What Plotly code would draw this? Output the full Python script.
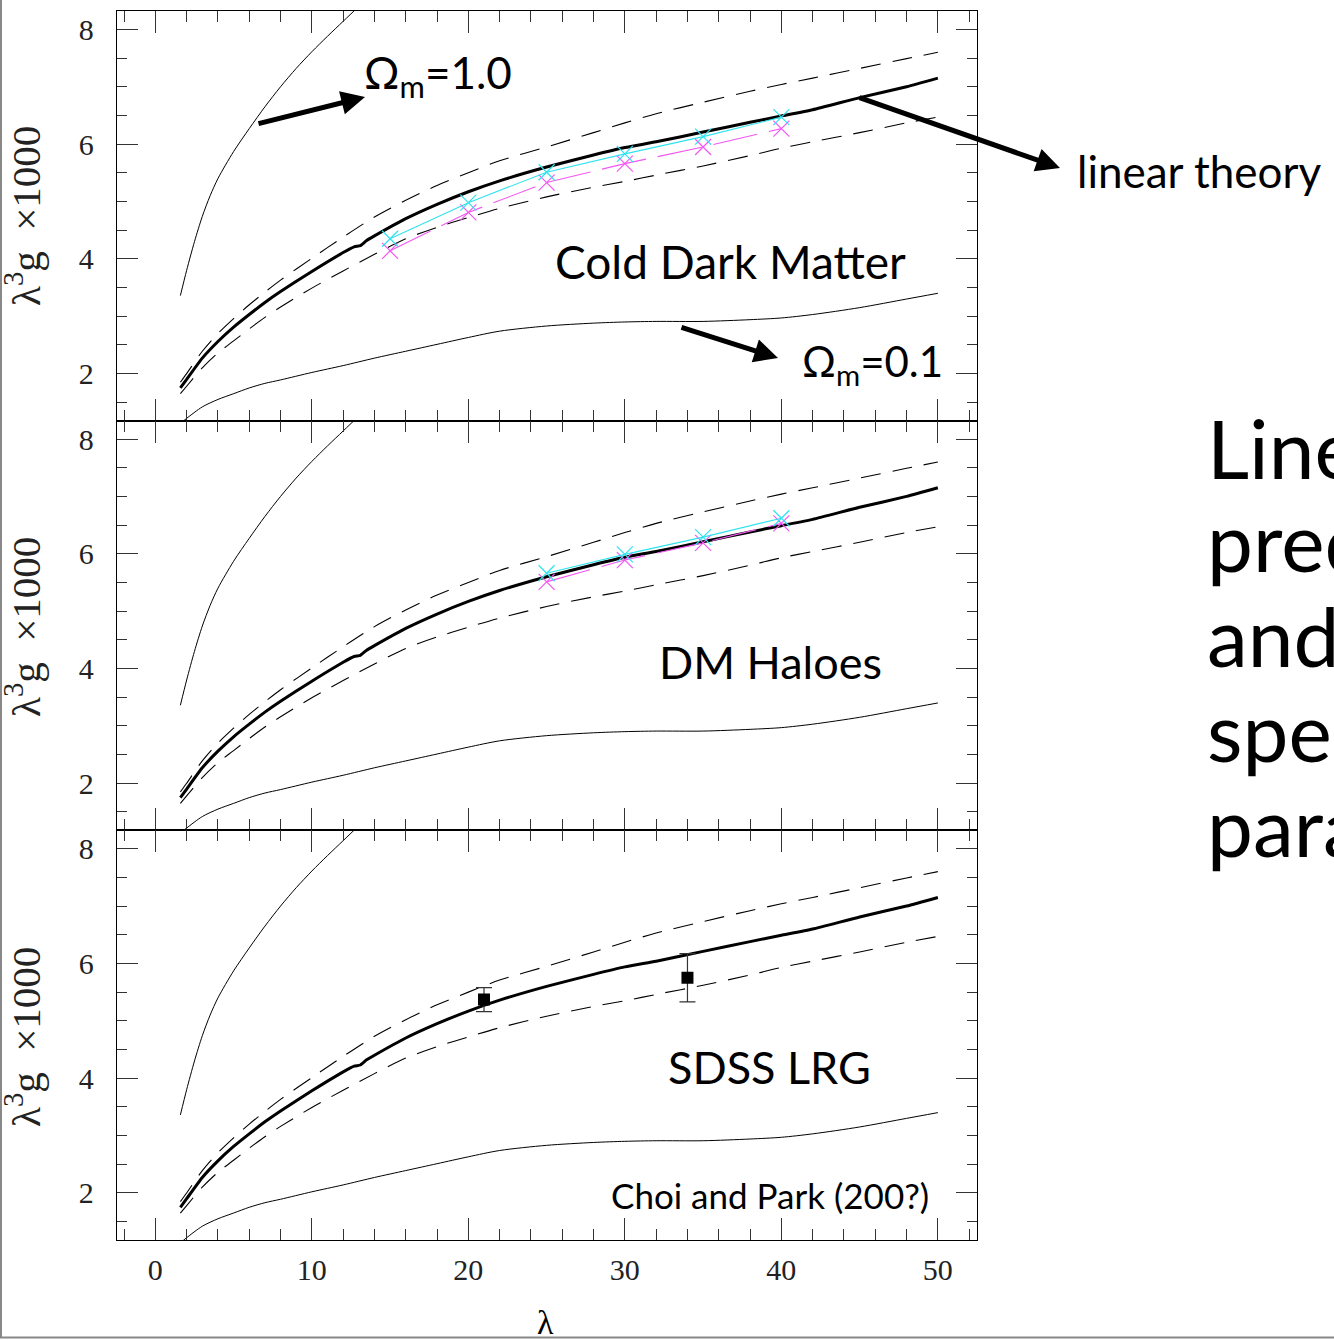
import plotly.graph_objects as go

# ---------------- data ----------------
lam_lin = [1.6, 2, 3, 4, 5, 6, 7, 8, 10, 12, 12.7, 13.1, 13.5, 14, 16, 18, 20, 22,
           25, 28, 30, 32, 35, 38, 40, 42, 45, 48, 50]
linear_theory = [1.75, 1.90, 2.27, 2.56, 2.81, 3.03, 3.24, 3.43, 3.78, 4.11, 4.21, 4.23,
                 4.32, 4.40, 4.70, 4.95, 5.17, 5.36, 5.60, 5.81, 5.94, 6.04, 6.21, 6.38,
                 6.49, 6.60, 6.81, 7.00, 7.15]

lam_band = [1.6, 2, 3, 4, 5, 6, 7, 8, 10, 12, 14, 16, 18, 20, 22, 25, 28, 30, 32, 35,
            38, 40, 42, 45, 48, 50]
band_upper = [1.85, 2.00, 2.39, 2.70, 2.96, 3.20, 3.42, 3.63, 4.01, 4.38, 4.73, 5.02,
              5.28, 5.50, 5.71, 5.95, 6.20, 6.37, 6.53, 6.73, 6.92, 7.04, 7.15, 7.32,
              7.49, 7.60]
band_lower = [1.65, 1.78, 2.10, 2.36, 2.57, 2.78, 2.98, 3.16, 3.49, 3.79, 4.08, 4.35,
              4.55, 4.72, 4.88, 5.08, 5.25, 5.35, 5.46, 5.62, 5.80, 5.93, 6.04, 6.20,
              6.37, 6.47]
omega_01 = [1.13, 1.22, 1.42, 1.55, 1.65, 1.75, 1.83, 1.89, 2.02, 2.14, 2.27, 2.39,
            2.51, 2.63, 2.74, 2.83, 2.88, 2.90, 2.91, 2.91, 2.94, 2.97, 3.03, 3.15,
            3.30, 3.40]

lam_high = [1.6, 2, 2.5, 3, 3.5, 4, 5, 6, 7, 8, 9, 10, 11, 12, 13, 14]
omega_10 = [3.36, 3.80, 4.30, 4.74, 5.10, 5.40, 5.87, 6.27, 6.65, 7.00, 7.32, 7.61,
            7.88, 8.14, 8.40, 8.65]

lam_cdm = [15, 20, 25, 30, 35, 40]
cdm_cyan = [4.35, 4.98, 5.51, 5.83, 6.13, 6.47]
cdm_magenta = [4.14, 4.81, 5.33, 5.66, 5.95, 6.27]

lam_halo = [25, 30, 35, 40]
halo_cyan = [5.66, 5.99, 6.29, 6.62]
halo_magenta = [5.51, 5.89, 6.19, 6.53]

lam_lrg = [21, 34]
lrg_val = [5.37, 5.75]
lrg_err = [0.21, 0.42]

# ---------------- layout constants ----------------
W, H = 1334, 1340
L, R, T, B = 117, 977, 11, 1240
SERIF = "Liberation Serif"
SANS = "Lato"
CYAN = "#2ee3ee"
MAGENTA = "#f257f2"


def pxx(px):
    return (px - L) / (R - L)


def pxy(py):
    return (B - py) / (B - T)


fig = go.Figure()

panels = [("x", "y"), ("x2", "y2"), ("x3", "y3")]
for xa, ya in panels:
    fig.add_trace(go.Scatter(x=lam_high, y=omega_10, mode="lines", xaxis=xa, yaxis=ya,
                             line=dict(color="black", width=1, shape="spline",
                                       smoothing=0.8), hoverinfo="skip"))
    fig.add_trace(go.Scatter(x=lam_band, y=omega_01, mode="lines", xaxis=xa, yaxis=ya,
                             line=dict(color="black", width=1, shape="spline",
                                       smoothing=0.8), hoverinfo="skip"))
    fig.add_trace(go.Scatter(x=lam_band, y=band_upper, mode="lines", xaxis=xa, yaxis=ya,
                             line=dict(color="black", width=1.1, dash="20px,12px",
                                       shape="spline", smoothing=0.8)))
    fig.add_trace(go.Scatter(x=lam_band, y=band_lower, mode="lines", xaxis=xa, yaxis=ya,
                             line=dict(color="black", width=1.1, dash="20px,12px",
                                       shape="spline", smoothing=0.8)))
    fig.add_trace(go.Scatter(x=lam_lin, y=linear_theory, mode="lines", xaxis=xa, yaxis=ya,
                             line=dict(color="black", width=3, shape="spline",
                                       smoothing=0.5)))

# simulations: CDM (top) and haloes (middle)
for xa, ya, lx, cy, mg in [("x", "y", lam_cdm, cdm_cyan, cdm_magenta),
                           ("x2", "y2", lam_halo, halo_cyan, halo_magenta)]:
    fig.add_trace(go.Scatter(x=lx, y=mg, mode="lines+markers", xaxis=xa, yaxis=ya,
                             line=dict(color=MAGENTA, width=1.1, dash="45px,12px"),
                             marker=dict(symbol="x-thin", size=16,
                                         line=dict(color=MAGENTA, width=1.2))))
    fig.add_trace(go.Scatter(x=lx, y=cy, mode="lines+markers", xaxis=xa, yaxis=ya,
                             line=dict(color=CYAN, width=1.1),
                             marker=dict(symbol="x-thin", size=16,
                                         line=dict(color=CYAN, width=1.2))))

# SDSS LRG measurements (bottom)
fig.add_trace(go.Scatter(x=lam_lrg, y=lrg_val, mode="markers", xaxis="x3", yaxis="y3",
                         marker=dict(symbol="square", size=12, color="black"),
                         error_y=dict(type="data", array=lrg_err, visible=True,
                                      color="#333333", thickness=1.2, width=8)))

# ---------------- axes ----------------
tickc = "#333333"
xcommon = dict(range=[-2.45, 52.5], tick0=0, dtick=10, ticks="inside", ticklen=22,
               tickwidth=1.1, tickcolor=tickc, showline=True, linecolor="black",
               linewidth=1.1, mirror="ticks", showgrid=False, zeroline=False,
               minor=dict(tick0=0, dtick=2, ticks="inside", ticklen=11, tickwidth=1.1,
                          tickcolor=tickc, showgrid=False),
               tickfont=dict(family=SERIF, size=30, color="#222222"),
               ticklabelstandoff=3)
ycommon = dict(range=[1.18, 8.32], tick0=0, dtick=2, ticks="inside", ticklen=21,
               tickwidth=1.1, tickcolor=tickc, showline=True, linecolor="black",
               linewidth=1.4, mirror="ticks", showgrid=False, zeroline=False,
               minor=dict(tick0=0, dtick=0.5, ticks="inside", ticklen=10, tickwidth=1.1,
                          tickcolor=tickc, showgrid=False),
               tickfont=dict(family=SERIF, size=30, color="#222222"),
               ticklabelstandoff=16)

fig.update_layout(
    xaxis=dict(xcommon, anchor="y", domain=[0, 1], showticklabels=False),
    xaxis2=dict(xcommon, anchor="y2", domain=[0, 1], showticklabels=False),
    xaxis3=dict(xcommon, anchor="y3", domain=[0, 1], showticklabels=True),
    yaxis=dict(ycommon, anchor="x", domain=[2 / 3, 1]),
    yaxis2=dict(ycommon, anchor="x2", domain=[1 / 3, 2 / 3]),
    yaxis3=dict(ycommon, anchor="x3", domain=[0, 1 / 3]),
)

# ---------------- annotations ----------------
ann = []


def text(px, py, s, size, xanchor="center", family=SANS):
    ann.append(dict(xref="paper", yref="paper", x=pxx(px), y=pxy(py), text=s,
                    showarrow=False, xanchor=xanchor, yanchor="middle",
                    font=dict(family=family, size=size, color="black")))


def arrow(tx, ty, hx, hy):
    ann.append(dict(xref="paper", yref="paper", x=pxx(hx), y=pxy(hy), text="",
                    showarrow=True, axref="pixel", ayref="pixel", ax=tx - hx, ay=ty - hy,
                    arrowhead=2, arrowsize=0.95, arrowwidth=5, arrowcolor="black",
                    standoff=0, startstandoff=0))


ylabel = "λ<sup>3</sup>g\u00a0\u00a0×1000"
for cy in [216, 627, 1037]:
    ann.append(dict(xref="paper", yref="paper", x=pxx(23), y=pxy(cy), text=ylabel,
                    showarrow=False, textangle=-90, xanchor="center", yanchor="middle",
                    font=dict(family=SERIF, size=41, color="#222222")))
text(545, 1322, "λ", 34, family=SERIF)

text(362, 75, "Ω<sub>m</sub>=1.0", 44, xanchor="left")
text(800, 364, "Ω<sub>m</sub>=0.1", 42, xanchor="left")
text(730, 261, "Cold Dark Matter", 46)
text(770, 662, "DM Haloes", 45)
text(769, 1067, "SDSS LRG", 45)
text(770, 1195, "Choi and Park (200?)", 35)
text(1075, 171, "linear theory", 44, xanchor="left")

for cy, s in zip([447, 540, 635, 730, 825],
                 ["Linear theory", "predictions", "and", "spectral", "parameters"]):
    text(1205, cy, s, 82, xanchor="left")

arrow(257, 124, 365, 97)
arrow(680, 327, 778, 358)
arrow(858, 97, 1060, 168)

fig.update_layout(
    annotations=ann,
    shapes=[dict(type="rect", xref="paper", yref="paper", x0=pxx(1), x1=pxx(1400),
                 y0=pxy(1337.5), y1=pxy(-10), line=dict(color="#888888", width=2))],
    width=W, height=H, margin=dict(l=L, r=W - R, t=T, b=H - B, pad=0),
    paper_bgcolor="white", plot_bgcolor="white", showlegend=False,
)

fig.write_html("out.html")
